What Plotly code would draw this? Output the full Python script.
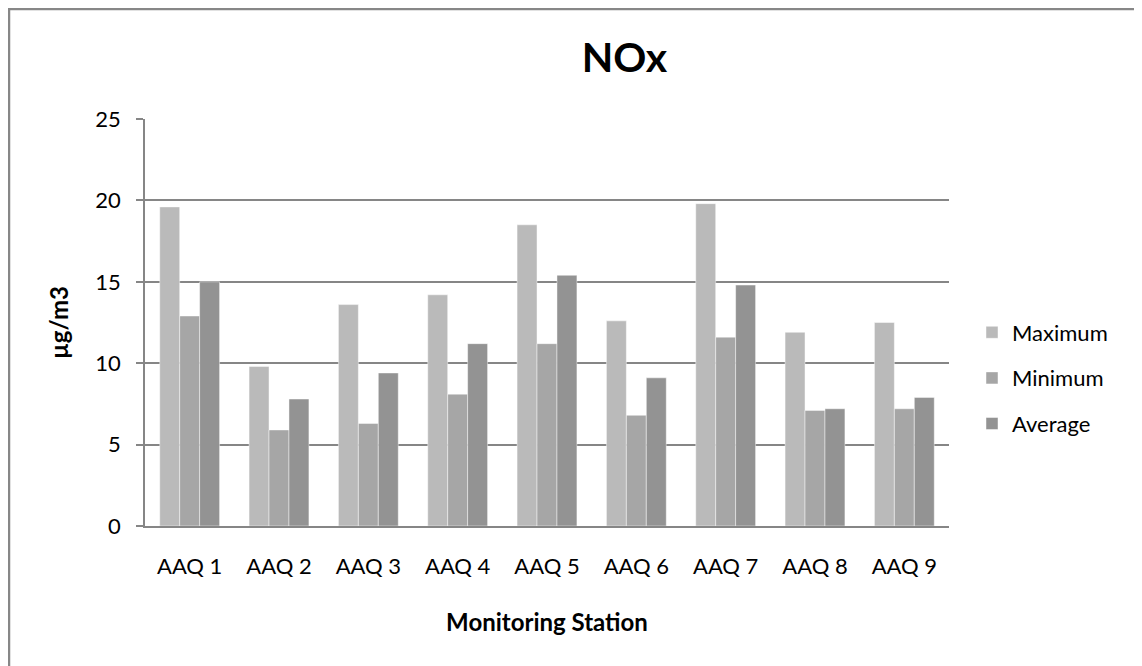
import plotly.graph_objects as go

# Data
stations = ["AAQ 1", "AAQ 2", "AAQ 3", "AAQ 4", "AAQ 5", "AAQ 6", "AAQ 7", "AAQ 8", "AAQ 9"]
maximum = [19.6, 9.8, 13.6, 14.2, 18.5, 12.6, 19.8, 11.9, 12.5]
minimum = [12.9, 5.9, 6.3, 8.1, 11.2, 6.8, 11.6, 7.1, 7.2]
average = [15.0, 7.8, 9.4, 11.2, 15.4, 9.1, 14.8, 7.2, 7.9]

FONT = "Lato"
GRID = "#868686"
OFF = 8  # page body margin shifts the figure by 8px

series = [("Maximum", maximum, "#BABABA"),
          ("Minimum", minimum, "#A6A6A6"),
          ("Average", average, "#939393")]

fig = go.Figure()
for name, vals, col in series:
    fig.add_trace(go.Bar(
        x=stations, y=vals, name=name, legendgroup=name,
        marker=dict(color=col, line=dict(color="rgba(255,255,255,0.45)", width=1)),
    ))

# plot area on page: x 145..949, y 119..526 px
L, T = 145 - OFF, 119 - OFF
R, B = 1142 - (949 - OFF), 666 - (526 - OFF)
pw, ph = 1142 - L - R, 666 - T - B

def px_x(p):
    return (p - OFF - L) / pw

def px_y(p):
    return (666 - B - (p - OFF)) / ph

fig.update_layout(
    width=1142, height=666,
    margin=dict(l=L, r=R, t=T, b=B),
    paper_bgcolor="white", plot_bgcolor="white",
    font=dict(family=FONT, color="black", size=22),
    barmode="group", bargap=0.33, bargroupgap=0,
    title=dict(text="<b>NOx</b>", font=dict(size=41), x=px_x(579), xanchor="center",
               y=1 - (58 - OFF) / 666, yanchor="middle"),
    xaxis=dict(
        title=dict(text="<b>Monitoring Station</b>", font=dict(size=24), standoff=36),
        showline=True, linecolor=GRID, linewidth=1.5, ticks="",
        tickfont=dict(size=22), ticklabelstandoff=20,
    ),
    yaxis=dict(
        title=dict(text="<b>µg/m3</b>", font=dict(size=24), standoff=20),
        range=[0, 25], dtick=5, showgrid=True, gridcolor=GRID, gridwidth=1.5,
        showline=True, linecolor=GRID, linewidth=1.5,
        ticks="outside", ticklen=7, tickcolor=GRID, tickwidth=1.5,
        tickfont=dict(size=22), zeroline=False, ticklabelstandoff=11,
    ),
    legend=dict(x=px_x(972), xanchor="left", y=px_y(378), yanchor="middle",
                font=dict(size=22), tracegroupgap=14, bgcolor="rgba(0,0,0,0)"),
    showlegend=True,
)

# outer chart border (left and top edges visible)
fig.add_shape(type="rect", xref="paper", yref="paper",
              x0=px_x(9), x1=px_x(1200), y0=px_y(720), y1=px_y(9),
              line=dict(color="#878787", width=2.5), fillcolor="rgba(0,0,0,0)", layer="below")

fig.write_html("out.html")
